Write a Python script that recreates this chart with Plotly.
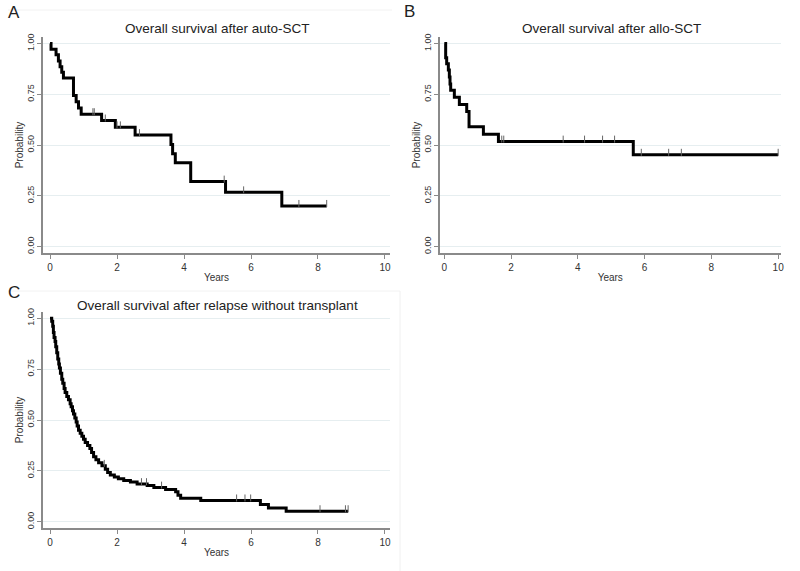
import plotly.graph_objects as go

W, H = 800, 571

# ---------- Data ----------
# Panel A: Overall survival after auto-SCT
a_times = [0.00, 0.03, 0.18, 0.25, 0.30, 0.35, 0.40, 0.70, 0.78, 0.85, 0.93, 1.54, 1.95, 2.54, 3.61, 3.66, 3.74, 4.20, 5.24, 6.92]
a_surv  = [1.000, 0.972, 0.944, 0.914, 0.886, 0.858, 0.830, 0.744, 0.713, 0.682, 0.652, 0.621, 0.587, 0.549, 0.503, 0.457, 0.412, 0.320, 0.267, 0.200]
a_end = 8.26
a_cens_t = [1.28, 1.32, 1.65, 2.00, 2.10, 2.67, 5.20, 5.78, 7.43, 8.26]

# Panel B: Overall survival after allo-SCT
b_times = [0.00, 0.04, 0.07, 0.12, 0.15, 0.17, 0.19, 0.30, 0.45, 0.67, 0.74, 1.17, 1.62, 5.66]
b_surv  = [1.000, 0.930, 0.900, 0.870, 0.835, 0.800, 0.770, 0.735, 0.700, 0.665, 0.590, 0.553, 0.517, 0.452]
b_end = 10.0
b_cens_t = [1.72, 1.78, 3.56, 4.20, 4.74, 5.10, 5.90, 6.72, 7.10, 10.0]

# Panel C: Overall survival after relapse without transplant
c_times = [0.00, 0.05, 0.08, 0.10, 0.12, 0.15, 0.17, 0.20, 0.23, 0.26, 0.28, 0.31, 0.35, 0.38, 0.42,
           0.45, 0.50, 0.55, 0.60, 0.63, 0.67, 0.70, 0.74, 0.78, 0.81, 0.85, 0.90, 0.95, 1.00, 1.05,
           1.12, 1.19, 1.24, 1.30, 1.37, 1.45, 1.55, 1.65, 1.72, 1.80, 1.92, 2.04, 2.20, 2.40, 2.60,
           2.90, 3.10, 3.45, 3.75, 3.82, 3.90, 4.50, 6.28, 6.52, 7.05]
c_surv  = [1.000, 0.985, 0.960, 0.930, 0.905, 0.885, 0.860, 0.830, 0.800, 0.775, 0.755, 0.730, 0.700, 0.680, 0.655,
           0.635, 0.615, 0.600, 0.580, 0.565, 0.545, 0.530, 0.510, 0.490, 0.470, 0.450, 0.435, 0.420, 0.405, 0.390,
           0.375, 0.360, 0.340, 0.320, 0.305, 0.290, 0.275, 0.258, 0.242, 0.230, 0.220, 0.212, 0.203, 0.195, 0.185,
           0.178, 0.168, 0.158, 0.148, 0.130, 0.115, 0.105, 0.085, 0.068, 0.052]
c_end = 8.90
c_cens_t = [1.62, 2.73, 2.88, 3.33, 5.57, 5.82, 5.99, 8.06, 8.82, 8.90]

titles = ["Overall survival after auto-SCT", "Overall survival after allo-SCT",
          "Overall survival after relapse without transplant"]
letters = ["A", "B", "C"]
x_ticks = [0, 2, 4, 6, 8, 10]
y_ticks = [0.0, 0.25, 0.5, 0.75, 1.0]


def surv_at(times, surv, t):
    s = surv[0]
    for ti, si in zip(times, surv):
        if ti <= t:
            s = si
    return s


def px(x):
    return x / W


def py(y):
    return 1 - y / H


# ---------- Layout geometry (reference pixels) ----------
panels = [
    dict(x0=43, x1=390, y0=37, y1=253, xr=[-0.21, 10.15]),
    dict(x0=440, x1=780.5, y0=37, y1=253, xr=[-0.13, 10.07]),
    dict(x0=43, x1=390, y0=311.7, y1=528.3, xr=[-0.21, 10.15]),
]
yr = [-0.032, 1.032]

fig = go.Figure()
data = [(a_times, a_surv, a_end, a_cens_t),
        (b_times, b_surv, b_end, b_cens_t),
        (c_times, c_surv, c_end, c_cens_t)]

font_fam = "Liberation Sans, Arial, sans-serif"
layout = dict(width=W, height=H, margin=dict(l=0, r=0, t=0, b=0, autoexpand=False),
              paper_bgcolor="white", plot_bgcolor="white", showlegend=False,
              font=dict(family=font_fam, color="#333"))
annotations = []
shapes = []

for i, (p, (t, s, end, ct)) in enumerate(zip(panels, data)):
    k = "" if i == 0 else str(i + 1)
    xa, ya = "x" + k, "y" + k
    xs = list(t) + [end]
    ys = list(s) + [s[-1]]
    fig.add_trace(go.Scatter(x=xs, y=ys, mode="lines", line=dict(color="black", width=3, shape="hv"),
                             xaxis=xa, yaxis=ya, hoverinfo="skip"))
    cy = [surv_at(t, s, c) + 0.012 for c in ct]
    fig.add_trace(go.Scatter(x=ct, y=cy, mode="markers",
                             marker=dict(symbol="line-ns", size=5, line=dict(width=1, color="#666")),
                             xaxis=xa, yaxis=ya, hoverinfo="skip"))
    dx = [px(p["x0"]), px(p["x1"])]
    dy = [py(p["y1"]), py(p["y0"])]
    layout["xaxis" + k] = dict(domain=dx, range=p["xr"], anchor=ya, tickvals=x_ticks, automargin=False,
                               showgrid=False, zeroline=False, showline=True, linecolor="#8a8a8a", linewidth=1.5,
                               ticks="outside", ticklen=4, tickcolor="#8a8a8a", tickfont=dict(size=10, color="#333"),
                               title=dict(text="Years", font=dict(size=10, color="#333"), standoff=2))
    layout["yaxis" + k] = dict(domain=dy, range=yr, anchor=xa, tickvals=y_ticks, tickformat=".2f", automargin=False,
                               tickangle=-90, showgrid=True, gridcolor="#e6eef0", gridwidth=1,
                               zeroline=False, showline=True, linecolor="#8a8a8a", linewidth=1.5,
                               ticks="outside", ticklen=4, tickcolor="#8a8a8a", tickfont=dict(size=9, color="#333"),
                               title=dict(text="Probability", font=dict(size=10, color="#333"), standoff=0))
    span = p["xr"][1] - p["xr"][0]
    cx = p["x0"] + ((0 - p["xr"][0]) + (10 - p["xr"][0])) / 2 / span * (p["x1"] - p["x0"])
    ty = 29 if i < 2 else 305
    annotations.append(dict(text=titles[i], x=px(cx), y=py(ty), xref="paper", yref="paper",
                            xanchor="center", yanchor="middle", showarrow=False,
                            font=dict(size=13.5, color="#222")))

letter_pos = [(14, 13), (410, 12), (14, 292)]
for L, (lx, ly) in zip(letters, letter_pos):
    annotations.append(dict(text=L, x=px(lx), y=py(ly), xref="paper", yref="paper",
                            xanchor="center", yanchor="middle", showarrow=False,
                            font=dict(size=17, color="#222")))

# faint panel separators
shapes.append(dict(type="line", xref="paper", yref="paper", x0=px(8), x1=px(392), y0=py(10), y1=py(10),
                   line=dict(color="#f2f2f2", width=1)))
shapes.append(dict(type="line", xref="paper", yref="paper", x0=px(8), x1=px(400), y0=py(291), y1=py(291),
                   line=dict(color="#f2f2f2", width=1)))
shapes.append(dict(type="line", xref="paper", yref="paper", x0=px(400), x1=px(400), y0=0, y1=py(291),
                   line=dict(color="#f0f0f0", width=1)))

layout["annotations"] = annotations
layout["shapes"] = shapes
fig.update_layout(**layout)
fig.write_html("out.html", config={"displayModeBar": False},
               post_script="document.body.style.margin='0';document.body.style.overflow='hidden';")
